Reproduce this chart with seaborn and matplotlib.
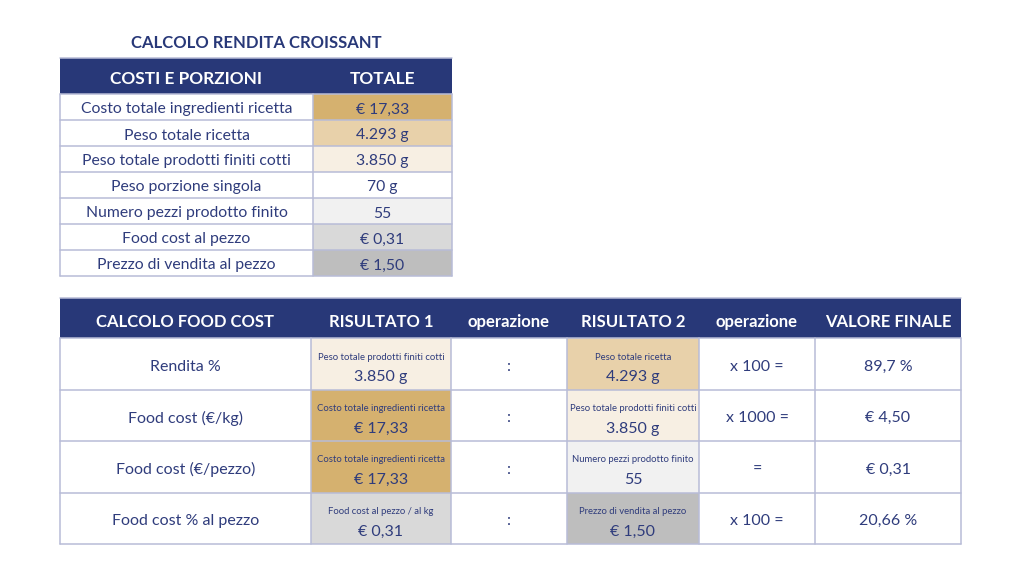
import numpy as np
import pandas as pd
import matplotlib
matplotlib.use("Agg")
import matplotlib.pyplot as plt
from matplotlib.patches import Rectangle
import seaborn as sns

# ── Data ──────────────────────────────────────────────────────────────
title = "CALCOLO RENDITA CROISSANT"

top_header = ["COSTI E PORZIONI", "TOTALE"]
top_labels = [
    "Costo totale ingredienti ricetta",
    "Peso totale ricetta",
    "Peso totale prodotti finiti cotti",
    "Peso porzione singola",
    "Numero pezzi prodotto finito",
    "Food cost al pezzo",
    "Prezzo di vendita al pezzo",
]
top_values = ["€ 17,33", "4.293 g", "3.850 g", "70 g", "55", "€ 0,31", "€ 1,50"]
top_shades = ["gold", "tan", "cream", "white", "light", "gray", "dark"]

bottom_header = ["CALCOLO FOOD COST", "RISULTATO 1", "operazione",
                 "RISULTATO 2", "operazione", "VALORE FINALE"]
bottom_labels = ["Rendita %", "Food cost (€/kg)", "Food cost (€/pezzo)",
                 "Food cost % al pezzo"]
r1_captions = ["Peso totale prodotti finiti cotti", "Costo totale ingredienti ricetta",
               "Costo totale ingredienti ricetta", "Food cost al pezzo / al kg"]
r1_values = ["3.850 g", "€ 17,33", "€ 17,33", "€ 0,31"]
r1_shades = ["cream", "gold", "gold", "gray"]
op1 = [":", ":", ":", ":"]
r2_captions = ["Peso totale ricetta", "Peso totale prodotti finiti cotti",
               "Numero pezzi prodotto finito", "Prezzo di vendita al pezzo"]
r2_values = ["4.293 g", "3.850 g", "55", "€ 1,50"]
r2_shades = ["tan", "cream", "light", "dark"]
op2 = ["x 100 =", "x 1000 =", "=", "x 100 ="]
final_values = ["89,7 %", "€ 4,50", "€ 0,31", "20,66 %"]

# ── Styles ────────────────────────────────────────────────────────────
palette = {
    "gold": "#D5B16F",
    "tan": "#E8D1AA",
    "cream": "#F7EFE3",
    "white": "#FFFFFF",
    "light": "#F1F1F1",
    "gray": "#D9D9D9",
    "dark": "#BEBEBE",
}
NAVY = "#283878"
TEXT = "#2F3C7C"
LINE = "#B8BCD7"

sns.set_theme(style="white")
plt.rcParams["font.family"] = ["Lato", "DejaVu Sans"]

fig = plt.figure(figsize=(10.24, 5.76), dpi=100)
ax = fig.add_axes([0, 0, 1, 1])
ax.set_xlim(0, 1024)
ax.set_ylim(576, 0)
ax.axis("off")


def draw_table(x0, y0, col_w, head_h, row_h, n_rows, header, shades_by_col,
               fs_head, head_dy):
    edges = x0 + np.concatenate([[0], np.cumsum(col_w)])
    y_rows = y0 + head_h + np.arange(n_rows + 1) * row_h
    # header band
    ax.add_patch(Rectangle((edges[0], y0), edges[-1] - edges[0], head_h,
                           facecolor=NAVY, edgecolor=NAVY, lw=0))
    for i, h in enumerate(header):
        ax.text((edges[i] + edges[i + 1]) / 2, y0 + head_h / 2 + head_dy, h,
                ha="center", va="center", color="white",
                fontsize=fs_head, fontweight="bold")
    # cell fills
    for c, shades in shades_by_col.items():
        for r, s in enumerate(shades):
            ax.add_patch(Rectangle((edges[c], y_rows[r]), col_w[c], row_h,
                                   facecolor=palette[s], edgecolor="none"))
    # grid
    for y in y_rows:
        ax.plot([edges[0], edges[-1]], [y, y], color=LINE, lw=1.1)
    for x in edges:
        ax.plot([x, x], [y_rows[0], y_rows[-1]], color=LINE, lw=1.1)
    ax.plot([edges[0], edges[-1]], [y0, y0], color=LINE, lw=1.1)
    return edges, y_rows


# ── Top table ─────────────────────────────────────────────────────────
ax.text(256, 43, title, ha="center", va="center", color=NAVY,
        fontsize=12, fontweight="bold")

edges, y_rows = draw_table(60, 58, [253, 139], 36, 26, len(top_labels),
                           top_header, {1: top_shades}, 12.4, 3)
for r, (lab, val) in enumerate(zip(top_labels, top_values)):
    yc = (y_rows[r] + y_rows[r + 1]) / 2 + 2.5
    ax.text((edges[0] + edges[1]) / 2, yc, lab, ha="center", va="center",
            color=TEXT, fontsize=11.3)
    ax.text((edges[1] + edges[2]) / 2, yc, val, ha="center", va="center",
            color=TEXT, fontsize=11.3)

# ── Bottom table ──────────────────────────────────────────────────────
edges, y_rows = draw_table(60, 298, [251, 140, 116, 132, 116, 146], 40, 51.5,
                           len(bottom_labels), bottom_header,
                           {1: r1_shades, 3: r2_shades}, 12, 4)


def cx(i):
    return (edges[i] + edges[i + 1]) / 2


for r in range(len(bottom_labels)):
    top, bot = y_rows[r], y_rows[r + 1]
    yc = (top + bot) / 2 + 3
    ax.text(cx(0), yc, bottom_labels[r], ha="center", va="center",
            color=TEXT, fontsize=11.5)
    ax.text(cx(1), top + 19, r1_captions[r], ha="center", va="center",
            color=TEXT, fontsize=6.8)
    ax.text(cx(1), top + 39, r1_values[r], ha="center", va="center",
            color=TEXT, fontsize=11.5)
    ax.text(cx(2), yc, op1[r], ha="center", va="center",
            color=TEXT, fontsize=11.5)
    ax.text(cx(3), top + 19, r2_captions[r], ha="center", va="center",
            color=TEXT, fontsize=6.8)
    ax.text(cx(3), top + 39, r2_values[r], ha="center", va="center",
            color=TEXT, fontsize=11.5)
    ax.text(cx(4), yc, op2[r], ha="center", va="center",
            color=TEXT, fontsize=11.5)
    ax.text(cx(5), yc, final_values[r], ha="center", va="center",
            color=TEXT, fontsize=11.5)

fig.savefig("out.png", dpi=100, facecolor="white")
plt.close(fig)
